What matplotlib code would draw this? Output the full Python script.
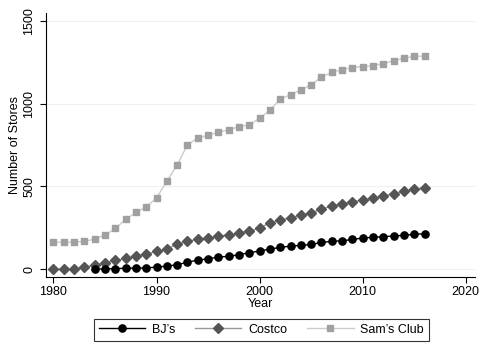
import matplotlib
matplotlib.use("Agg")
import matplotlib.pyplot as plt

plt.rcParams["font.family"] = ["Liberation Sans", "DejaVu Sans"]

# store counts by year
bj_years = list(range(1984, 2017))
bj_stores = [0, 1, 3, 5, 6, 7, 12, 18, 26, 42, 54, 62, 73, 77, 87, 99, 109,
             121, 131, 139, 143, 149, 161, 168, 171, 179, 188, 192, 196, 200,
             204, 210, 214]

costco_years = list(range(1980, 2017))
costco_stores = [0, 0, 1, 12, 24, 38, 52, 64, 77, 91, 107, 121, 151, 169, 179,
                 188, 198, 206, 218, 230, 248, 280, 296, 310, 327, 341, 361,
                 383, 395, 407, 419, 428, 443, 456, 470, 484, 490]

sams_years = list(range(1980, 2017))
sams_stores = [163, 163, 163, 168, 181, 206, 246, 300, 343, 375, 430, 532, 629,
               752, 792, 810, 827, 843, 860, 872, 912, 960, 1028, 1054, 1083,
               1115, 1161, 1189, 1206, 1218, 1224, 1230, 1242, 1260, 1274,
               1286, 1288]

fig = plt.figure(figsize=(4.94, 3.52), dpi=100)
ax = fig.add_axes([0.093, 0.213, 0.868, 0.75])

ax.plot(bj_years, bj_stores, color="black", lw=1.0, marker="o",
        markersize=5.2, label="BJ\u2019s", zorder=4)
ax.plot(costco_years, costco_stores, color="#999999", lw=1.0, marker="D",
        markersize=5.6, markerfacecolor="#555555", markeredgecolor="#555555",
        label="Costco", zorder=3)
ax.plot(sams_years, sams_stores, color="#cccccc", lw=1.0, marker="s",
        markersize=4.8, markerfacecolor="#a0a0a0", markeredgecolor="#a0a0a0",
        label="Sam\u2019s Club", zorder=2)

ax.set_xlim(1979.27, 2020.87)
ax.set_ylim(-48, 1548)
ax.set_xticks([1980, 1990, 2000, 2010, 2020])
ax.set_yticks([0, 500, 1000, 1500])
ax.yaxis.grid(True, color="#eaf2f3", lw=0.8)
ax.set_axisbelow(True)

for side in ["top", "right"]:
    ax.spines[side].set_visible(False)
for side in ["left", "bottom"]:
    ax.spines[side].set_linewidth(0.8)
ax.tick_params(direction="out", length=4.5, width=0.8, labelsize=9)
ax.tick_params(axis="x", pad=2)
ax.tick_params(axis="y", pad=3)
plt.setp(ax.get_yticklabels(), rotation=90, va="center")

ax.set_xlabel("Year", fontsize=9, labelpad=0)
ax.set_ylabel("Number of Stores", fontsize=9, labelpad=2)

leg = fig.legend(loc="center", bbox_to_anchor=(0.529, 0.063), ncol=3,
                 fontsize=9, frameon=True, fancybox=False, handlelength=3.7,
                 columnspacing=1.6, handletextpad=0.55, borderpad=0.4,
                 borderaxespad=0)
leg.get_frame().set_edgecolor("black")
leg.get_frame().set_linewidth(0.8)

fig.savefig("out.png", dpi=100)
